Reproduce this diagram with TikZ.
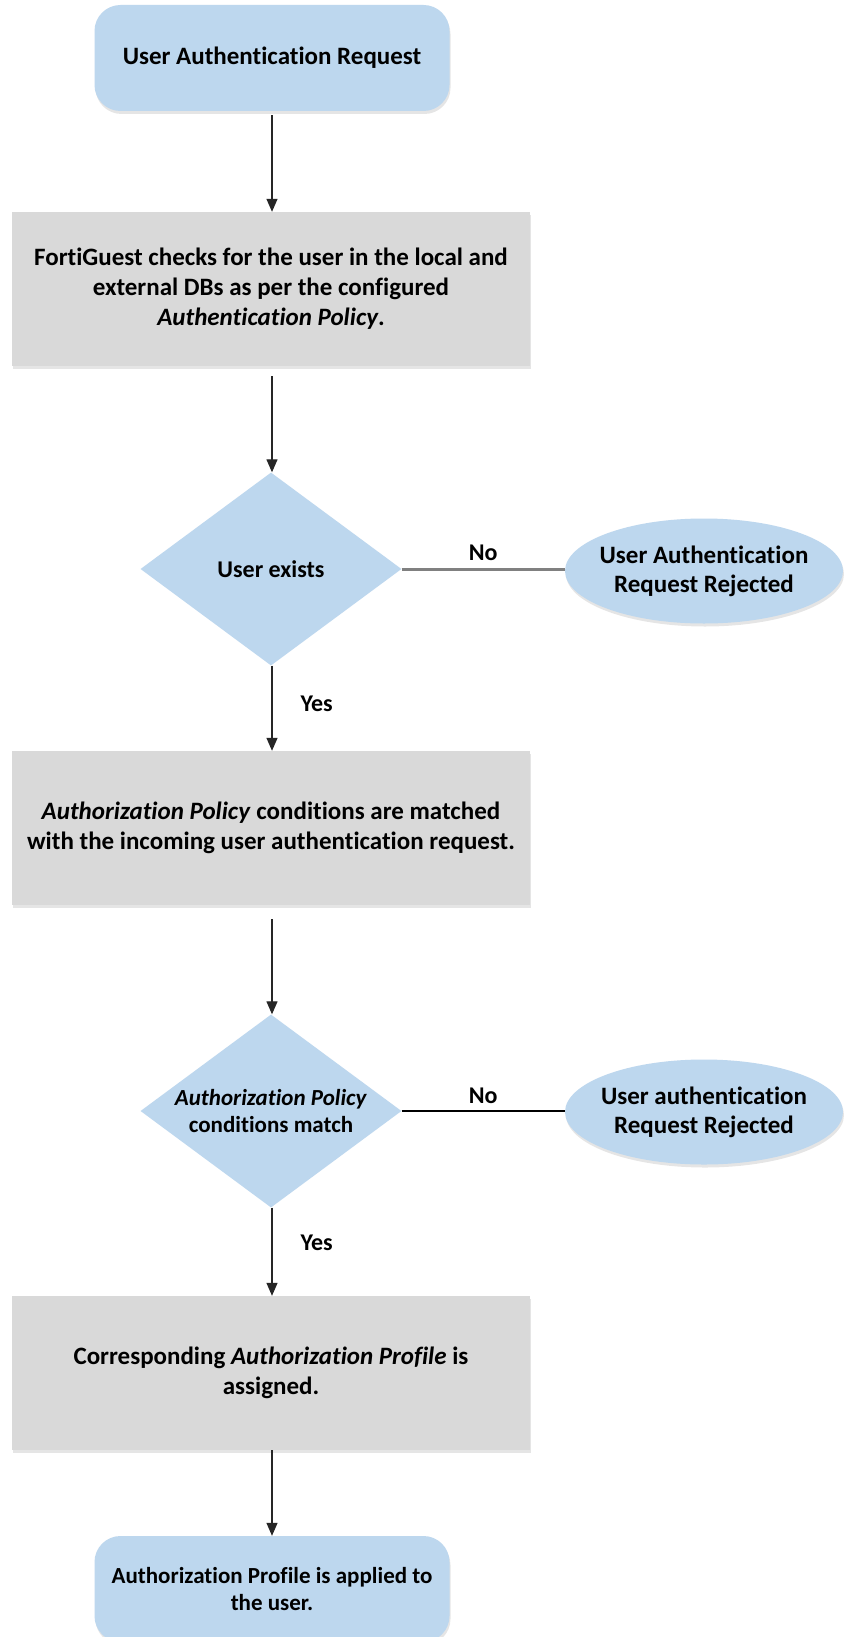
\documentclass[tikz,border=0pt]{standalone}
\usepackage{fontspec}
\setmainfont{Carlito}[Ligatures={NoCommon}]
\usetikzlibrary{shapes.geometric, shadows, arrows.meta}

\definecolor{lightblue}{HTML}{BDD7EE}
\definecolor{lightgray}{HTML}{D9D9D9}

\tikzset{
	terminal/.style={rounded corners=26pt, fill=lightblue, minimum width=355pt, minimum height=106pt,
		align=center, font=\fontsize{25}{30}\selectfont\bfseries,
		drop shadow={opacity=0.2, shadow xshift=1pt, shadow yshift=-3pt}},
	process/.style={fill=lightgray, minimum width=518pt, minimum height=154pt,
		align=center, font=\fontsize{25}{30}\selectfont\bfseries,
		drop shadow={opacity=0.2, shadow xshift=1pt, shadow yshift=-3pt}},
	decision/.style={diamond, fill=lightblue, minimum width=261pt, minimum height=193pt, inner sep=-30pt,
		align=center, font=\fontsize{23}{27}\selectfont\bfseries},
	reject/.style={ellipse, fill=lightblue, minimum width=278pt, minimum height=105pt, inner sep=-12pt,
		align=center, font=\fontsize{25}{29}\selectfont\bfseries,
		drop shadow={opacity=0.2, shadow xshift=1pt, shadow yshift=-3pt}},
	flow/.style={-{Triangle[width=11pt,length=13pt]}, line width=1.3pt, black!85},
	answer/.style={black, font=\fontsize{24}{28}\selectfont\bfseries}
}

\begin{document}
\begin{tikzpicture}[x=1pt,y=-1pt]
		\useasboundingbox (0,0) rectangle (843,1637);
		\fill[white] (0,0) rectangle (843,1637);

		\node[terminal] (request) at (272,58) {User Authentication Request};
		\node[process] (check) at (271,289) {FortiGuest checks for the user in the local and\\ external DBs as per the configured\\ \textit{Authentication Policy}.};
		\node[decision, font=\fontsize{24}{28}\selectfont\bfseries] (exists) at (271,569) {User exists};
		\node[reject] (reject1) at (704,571) {User Authentication\\ Request Rejected};
		\node[process] (match) at (271,828) {\textit{Authorization Policy} conditions are matched\\ with the incoming user authentication request.};
		\node[decision] (policy) at (271,1111) {\textit{Authorization Policy}\\ conditions match};
		\node[reject] (reject2) at (704,1112) {User authentication\\ Request Rejected};
		\node[process] (profile) at (271,1373) {Corresponding \textit{Authorization Profile} is\\ assigned.};
		\node[terminal, font=\fontsize{23}{27}\selectfont\bfseries] (applied) at (272,1589) {Authorization Profile is applied to\\ the user.};

		\foreach \a/\b/\gap in {request/check/4, check/exists/10, exists/match/0, match/policy/14, policy/profile/0, profile/applied/0}{
			\draw[flow, shorten <=\gap pt] (\a.south -| 272,0) -- (\b.north -| 272,0);
		}
		\node[answer, anchor=west] (yes1) at (297,704) {Yes};
		\node[answer, anchor=west] (yes2) at (297,1243) {Yes};

		\draw[line width=3pt, black!50] (exists.east) -- node[answer, above=3pt] (no1) {No} (exists.east -| reject1.west);
		\draw[line width=1.2pt, black] (policy.east) -- node[answer, above=3pt] (no2) {No} (policy.east -| reject2.west);
	\end{tikzpicture}
\end{document}
